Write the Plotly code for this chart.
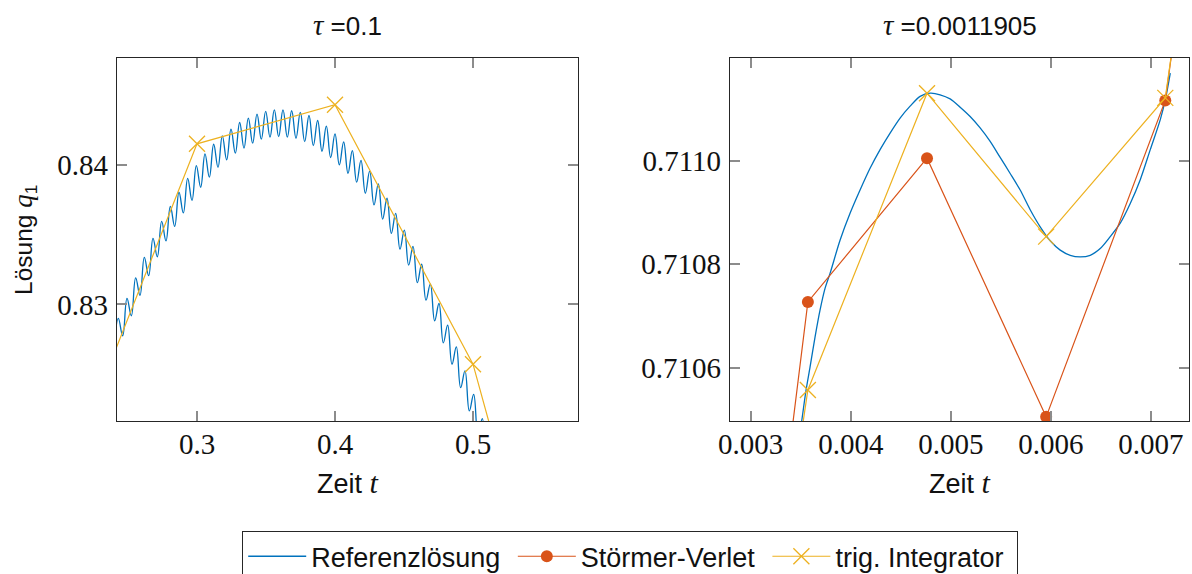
import plotly.graph_objects as go

# ---------------- data ----------------
# left panel (tau = 0.1): reference solution, read at its local extrema
ref1_t = [0.23986, 0.24300, 0.24614, 0.24928, 0.25242, 0.25556, 0.25870, 0.26184, 0.26498, 0.26812,
          0.27126, 0.27440, 0.27754, 0.28068, 0.28382, 0.28696, 0.29010, 0.29324, 0.29638, 0.29952,
          0.30266, 0.30580, 0.30894, 0.31208, 0.31522, 0.31836, 0.32150, 0.32464, 0.32778, 0.33092,
          0.33406, 0.33720, 0.34034, 0.34348, 0.34662, 0.34976, 0.35290, 0.35604, 0.35918, 0.36232,
          0.36546, 0.36860, 0.37174, 0.37488, 0.37802, 0.38116, 0.38430, 0.38744, 0.39058, 0.39372,
          0.39686, 0.40000, 0.40314, 0.40628, 0.40942, 0.41256, 0.41570, 0.41884, 0.42198, 0.42512,
          0.42826, 0.43140, 0.43454, 0.43768, 0.44082, 0.44396, 0.44710, 0.45024, 0.45338, 0.45652,
          0.45966, 0.46280, 0.46594, 0.46908, 0.47222, 0.47536, 0.47850, 0.48164, 0.48478, 0.48792,
          0.49106, 0.49420, 0.49734, 0.50048, 0.50362, 0.50676, 0.50990, 0.51304]
ref1_q = [0.82630, 0.82900, 0.82775, 0.83043, 0.82919, 0.83191, 0.83065, 0.83337, 0.83206, 0.83474,
          0.83342, 0.83596, 0.83455, 0.83703, 0.83560, 0.83804, 0.83656, 0.83904, 0.83746, 0.83995,
          0.83840, 0.84079, 0.83912, 0.84148, 0.83983, 0.84208, 0.84036, 0.84256, 0.84084, 0.84304,
          0.84120, 0.84335, 0.84156, 0.84364, 0.84184, 0.84383, 0.84199, 0.84395, 0.84203, 0.84395,
          0.84199, 0.84388, 0.84191, 0.84376, 0.84167, 0.84354, 0.84139, 0.84318, 0.84098, 0.84278,
          0.84053, 0.84222, 0.84000, 0.84165, 0.83940, 0.84103, 0.83876, 0.84033, 0.83797, 0.83955,
          0.83713, 0.83864, 0.83612, 0.83761, 0.83510, 0.83653, 0.83397, 0.83533, 0.83282, 0.83416,
          0.83156, 0.83289, 0.83031, 0.83146, 0.82883, 0.83007, 0.82725, 0.82852, 0.82572, 0.82696,
          0.82404, 0.82524, 0.82237, 0.82356, 0.82074, 0.82182, 0.81895, 0.82002]
trig1_t = [0.2, 0.3, 0.4, 0.5, 0.6]
trig1_q = [0.81650, 0.84151, 0.84431, 0.82572, 0.78986]

# right panel (tau = 0.0011905)
ref2_t = [0.003450, 0.003510, 0.003553, 0.003593, 0.003643, 0.003693, 0.003743, 0.003793, 0.003893,
          0.003993, 0.004093, 0.004193, 0.004293, 0.004393, 0.004493, 0.004593, 0.004693, 0.004793,
          0.004893, 0.004993, 0.005093, 0.005193, 0.005293, 0.005393, 0.005493, 0.005593, 0.005693,
          0.005793, 0.005893, 0.005993, 0.006093, 0.006193, 0.006293, 0.006393, 0.006493, 0.006593,
          0.006693, 0.006793, 0.006893, 0.006993, 0.007093, 0.007143, 0.007193]
ref2_q = [0.710415, 0.710497, 0.710556, 0.710601, 0.710659, 0.710711, 0.710753, 0.710782, 0.710846,
          0.710898, 0.710943, 0.710985, 0.711021, 0.711053, 0.711082, 0.711105, 0.711124, 0.711130,
          0.711127, 0.711119, 0.711103, 0.711085, 0.711063, 0.711037, 0.711006, 0.710975, 0.710943,
          0.710905, 0.710872, 0.710845, 0.710827, 0.710817, 0.710814, 0.710817, 0.710830, 0.710853,
          0.710879, 0.710917, 0.710963, 0.711021, 0.711079, 0.711117, 0.711169]
step2_t = [0.0023810, 0.0035715, 0.0047620, 0.0059525, 0.0071430, 0.0083335]
sv2_q = [0.708870, 0.710727, 0.7110045, 0.710505, 0.711116, 0.712800]
trig2_q = [0.709010, 0.710557, 0.711130, 0.710853, 0.711121, 0.712750]

x1_ticks = [0.3, 0.4, 0.5]
y1_ticks = [0.83, 0.84]
x2_ticks = [0.003, 0.004, 0.005, 0.006, 0.007]
y2_ticks = [0.7106, 0.7108, 0.7110]

# ---------------- style ----------------
BLUE = "#0072BD"
ORANGE = "#D95319"
YELLOW = "#EDB120"
SANS = "Liberation Sans, Arial, sans-serif"
SERIF = "Liberation Serif, Times New Roman, serif"

W, H = 1192, 574
L1, R1 = 117, 578
L2, R2 = 730, 1189
TOP, BOT = 58, 421

fig = go.Figure()

# left panel
fig.add_trace(go.Scatter(x=ref1_t, y=ref1_q, mode="lines", line=dict(color=BLUE, width=1.3, shape="spline", smoothing=1.2),
                         name="Referenzlösung", showlegend=False, xaxis="x", yaxis="y"))
fig.add_trace(go.Scatter(x=trig1_t, y=trig1_q, mode="lines+markers", line=dict(color=YELLOW, width=1.2),
                         marker=dict(symbol="x-thin", size=16, line=dict(color=YELLOW, width=1.3)),
                         name="trig. Integrator", showlegend=False, xaxis="x", yaxis="y"))

# right panel
fig.add_trace(go.Scatter(x=ref2_t, y=ref2_q, mode="lines", line=dict(color=BLUE, width=1.3, shape="spline", smoothing=0.8),
                         name="Referenzlösung\u00a0", xaxis="x2", yaxis="y2"))
fig.add_trace(go.Scatter(x=step2_t, y=sv2_q, mode="lines+markers", line=dict(color=ORANGE, width=1.2),
                         marker=dict(symbol="circle", size=12, color=ORANGE),
                         name="Störmer-Verlet\u00a0", xaxis="x2", yaxis="y2"))
fig.add_trace(go.Scatter(x=step2_t, y=trig2_q, mode="lines+markers", line=dict(color=YELLOW, width=1.2),
                         marker=dict(symbol="x-thin", size=16, line=dict(color=YELLOW, width=1.3)),
                         name="trig. Integrator\u00a0", xaxis="x2", yaxis="y2"))

axis_common = dict(showgrid=False, zeroline=False, showline=True, linecolor="#262626", linewidth=1.2,
                   mirror="allticks", ticks="inside", ticklen=10, tickwidth=1.5, tickcolor="#8c8c8c",
                   automargin=False,
                   tickfont=dict(family=SERIF, size=29, color="#111111"))

fig.update_layout(
    width=W, height=H,
    margin=dict(l=0, r=0, t=0, b=0, autoexpand=False),
    paper_bgcolor="white", plot_bgcolor="white",
    xaxis=dict(domain=[L1 / W, R1 / W], range=[0.24203, 0.57609], tickvals=x1_ticks, tickformat=".1f",
               anchor="y", ticklabelstandoff=-3, **axis_common),
    yaxis=dict(domain=[1 - BOT / H, 1 - TOP / H], range=[0.82165, 0.84766], tickvals=y1_ticks, tickformat=".2f",
               anchor="x", ticklabelstandoff=2, **axis_common),
    xaxis2=dict(domain=[L2 / W, R2 / W], range=[0.0027933, 0.0073800], tickvals=x2_ticks, tickformat=".3f",
                anchor="y2", ticklabelstandoff=-3, **axis_common),
    yaxis2=dict(domain=[1 - BOT / H, 1 - TOP / H], range=[0.710497, 0.711198], tickvals=y2_ticks, tickformat=".4f",
                anchor="x2", ticklabelstandoff=2, **axis_common),
    showlegend=True,
    legend=dict(orientation="h", x=630 / W, xanchor="center", y=1 - 531 / H, yanchor="top",
                bordercolor="#262626", borderwidth=1.2, bgcolor="white",
                font=dict(family=SANS, size=27, color="#111111"), itemwidth=58, tracegroupgap=0),
)

TAU = '<span style="font-family:Liberation Serif;font-size:29px"><i>τ</i></span>'
T_IT = '<span style="font-family:Liberation Serif;font-size:30px"><i>t</i></span>'
annos = [
    dict(x=(L1 + R1) / 2 / W, y=1 - 25 / H, text=TAU + " =0.1", size=26),
    dict(x=(L2 + R2) / 2 / W, y=1 - 25 / H, text=TAU + " =0.0011905", size=26),
    dict(x=(L1 + R1) / 2 / W, y=1 - 482 / H, text="Zeit " + T_IT, size=27),
    dict(x=(L2 + R2) / 2 / W, y=1 - 482 / H, text="Zeit " + T_IT, size=27),
    dict(x=24 / W, y=1 - 240 / H,
         text='Lösung <span style="font-family:Liberation Serif;font-size:27px"><i>q</i></span><sub>1</sub>',
         textangle=-90, size=24.5),
]
for a in annos:
    size = a.pop("size")
    fig.add_annotation(xref="paper", yref="paper", xanchor="center", yanchor="middle", showarrow=False,
                       font=dict(family=SANS, size=size, color="#111111"), **a)

fig.write_html("out.html")
